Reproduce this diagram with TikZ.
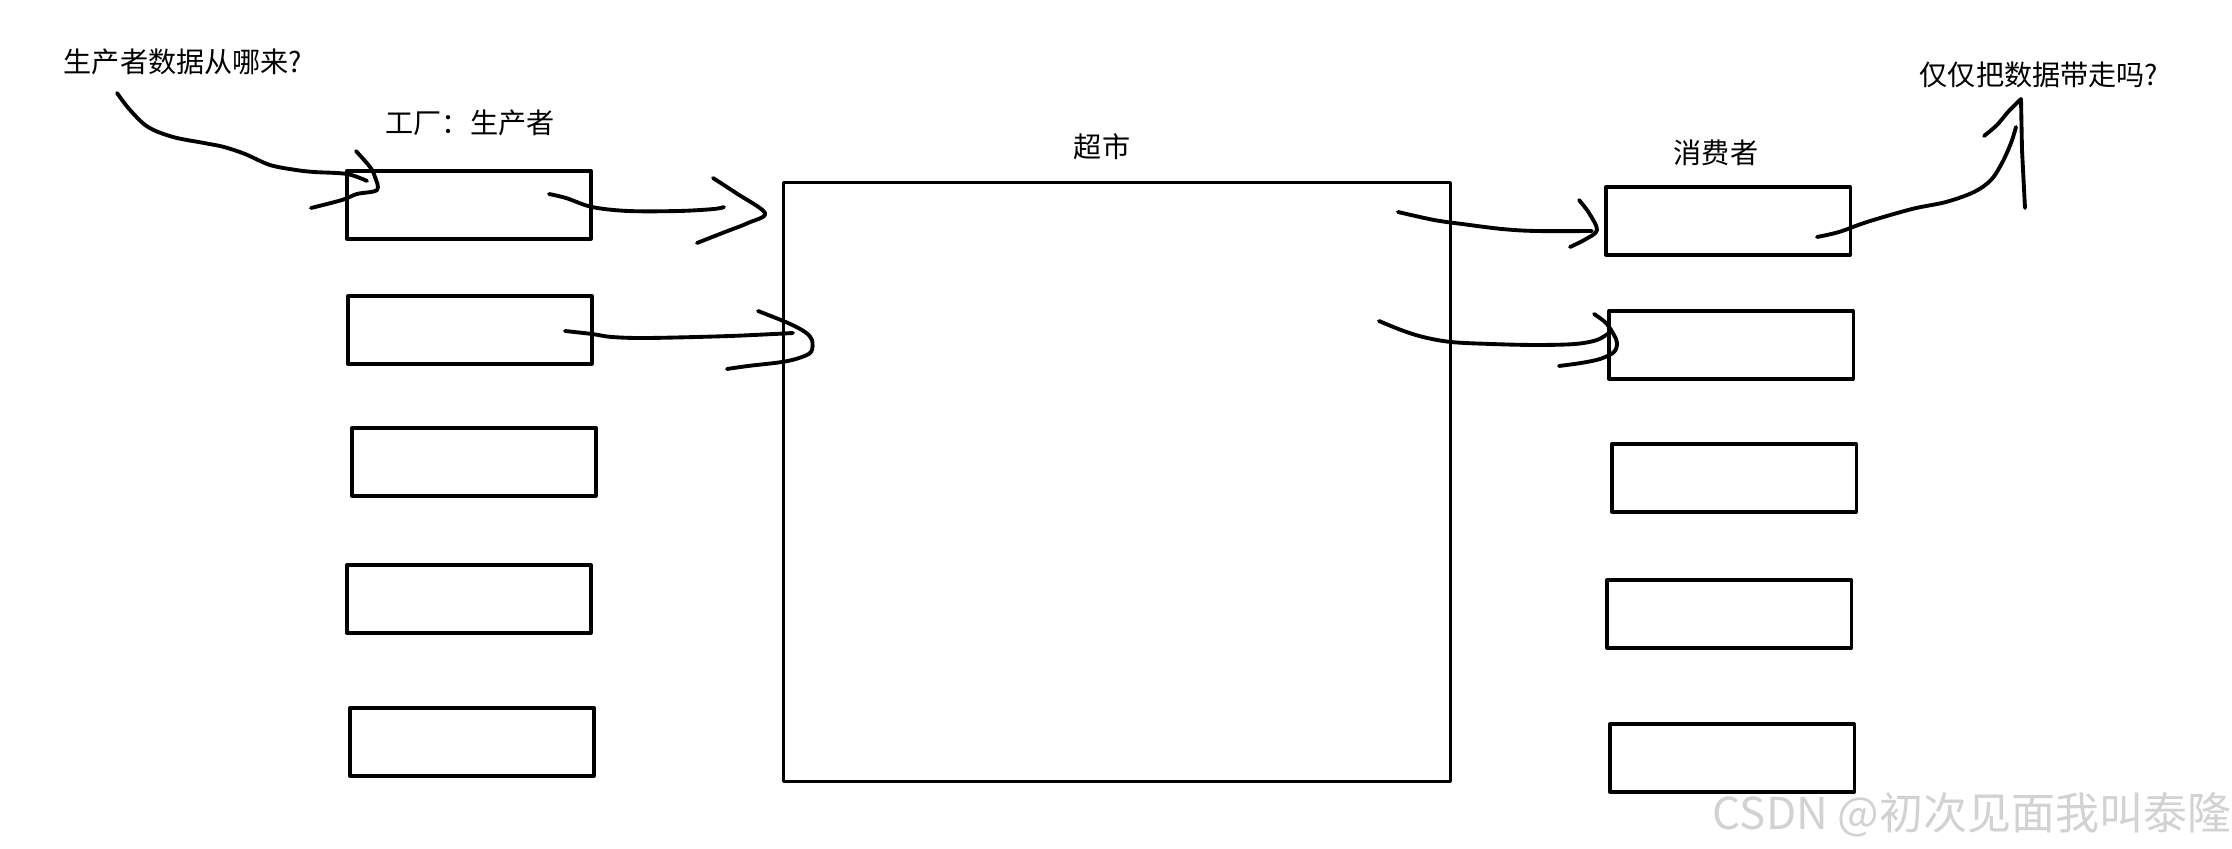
\documentclass[tikz,border=0pt]{standalone}
\usepackage{fontspec}
\setmainfont{Noto Sans CJK SC}
\begin{document}
\begin{tikzpicture}[x=0.01cm,y=-0.01cm,line join=round,line cap=round,font=\fontsize{8}{10}\selectfont,
    box/.style={draw,line width=0.9pt,minimum width=2.44cm,minimum height=0.68cm,inner sep=0pt},
    hand/.style={line width=1.1pt,smooth,tension=0.55}]
    \useasboundingbox (0,0) rectangle (2232,849);
    \foreach \n/\x/\y in {L1/469/205,L2/470/330,L3/474/462,L4/469/599,L5/472/742}
    \node[box] (\n) at (\x,\y) {};
    \foreach \n/\x/\y in {R1/1728/221,R2/1731/345,R3/1734/478,R4/1729/614,R5/1732/758}
    \node[box] (\n) at (\x,\y) {};
    \node[box,minimum width=6.67cm,minimum height=5.99cm] (shop) at (1117,482) {};
    \node (q1) at (183,62) {生产者数据从哪来?};
    \node (fac) at (470,123) {工厂：生产者};
    \node (shopl) at (1102,147) {超市};
    \node (con) at (1716,153) {消费者};
    \node (q2) at (2039,75) {仅仅把数据带走吗?};
    \node[text=gray!35,font=\fontsize{12.5}{14}\selectfont] (mark) at (1972,815) {CSDN @初次见面我叫泰隆};
    \draw[hand] plot coordinates {(117,93) (130,110) (148,127) (173,137) (204,143) (224,147) (245,154) (270,165) (296,170) (314,172) (347,174) (367,181)};
    \draw[hand] plot coordinates {(356,151) (370,167) (375,177) (377,190) (357,194) (342,200) (311,208)};
    \draw[hand] plot coordinates {(549,194) (566,198) (592,207) (628,211) (679,211) (714,209) (724,207)};
    \draw[hand] plot coordinates {(713,178) (736,193) (765,213) (748,223) (725,232) (697,243)};
    \draw[hand] plot coordinates {(565,331) (592,334) (612,337) (648,338) (730,336) (793,333)};
    \draw[hand] plot coordinates {(758,311) (788,323) (805,332) (812,340) (811,352) (799,358) (782,362) (748,366) (727,369)};
    \draw[hand] plot coordinates {(1398,212) (1434,220) (1462,224) (1502,229) (1536,231) (1592,231)};
    \draw[hand] plot coordinates {(1579,200) (1589,213) (1597,230) (1586,239) (1570,247)};
    \draw[hand] plot coordinates {(1379,321) (1401,330) (1423,337) (1451,342) (1491,344) (1536,345) (1575,344) (1597,340) (1609,333)};
    \draw[hand] plot coordinates {(1594,314) (1606,323) (1614,335) (1617,343) (1614,352) (1600,359) (1581,363) (1559,366)};
    \draw[hand] plot coordinates {(1817,237) (1839,232) (1867,222) (1912,209) (1946,202) (1974,192) (1991,180) (2002,163) (2011,143) (2016,127)};
    \draw[hand] plot coordinates {(1984,136) (1997,125) (2008,112) (2021,99)};
    \draw[hand] (2021,99) -- (2022,150) -- (2025,208);
\end{tikzpicture}
\end{document}
